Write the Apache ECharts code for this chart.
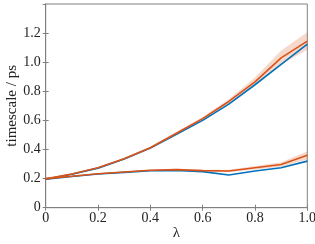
<!DOCTYPE html>
<html><head><meta charset="utf-8">
<script src="https://cdn.jsdelivr.net/npm/echarts@6/dist/echarts.min.js"></script>
<style>html,body{margin:0;padding:0;background:#fff}#c{width:315px;height:244px}</style>
</head><body><div id="c"></div>
<script>
var lambda = [0, 0.1, 0.2, 0.3, 0.4, 0.5, 0.6, 0.7, 0.8, 0.9, 1.0];
var slowBlue   = [0.195, 0.230, 0.272, 0.335, 0.410, 0.505, 0.600, 0.712, 0.845, 0.985, 1.125];
var slowOrange = [0.198, 0.232, 0.274, 0.337, 0.412, 0.512, 0.612, 0.730, 0.865, 1.030, 1.145];
var slowOrangeLo = [0.193, 0.227, 0.269, 0.331, 0.404, 0.502, 0.600, 0.714, 0.838, 0.985, 1.085];
var slowOrangeHi = [0.203, 0.237, 0.279, 0.343, 0.420, 0.522, 0.624, 0.746, 0.895, 1.080, 1.205];
var fastBlue   = [0.195, 0.214, 0.232, 0.243, 0.254, 0.256, 0.248, 0.225, 0.252, 0.275, 0.320];
var fastOrange = [0.200, 0.216, 0.233, 0.245, 0.257, 0.262, 0.255, 0.252, 0.275, 0.297, 0.360];
var fastOrangeLo = [0.195, 0.212, 0.229, 0.241, 0.252, 0.256, 0.249, 0.244, 0.263, 0.282, 0.332];
var fastOrangeHi = [0.205, 0.220, 0.237, 0.249, 0.262, 0.268, 0.261, 0.260, 0.287, 0.312, 0.388];
var xTicks = [0, 0.2, 0.4, 0.6, 0.8, 1.0];
var yTicks = [0, 0.2, 0.4, 0.6, 0.8, 1.0, 1.2];

var BLUE = '#0072BD', ORANGE = '#D95319', GRAY = '#808080';
var FONT = 'Liberation Serif';
function pairs(ys){ return lambda.map(function(x,i){ return [x, ys[i]]; }); }
function band(lo, hi){
  return {
    type:'custom', silent:true, z:1,
    data:[[0, 0]],
    renderItem:function(params, api){
      var pts = [];
      for (var i = 0; i < lambda.length; i++) pts.push(api.coord([lambda[i], hi[i]]));
      for (var j = lambda.length - 1; j >= 0; j--) pts.push(api.coord([lambda[j], lo[j]]));
      return {type:'polygon', shape:{points:pts}, style:{fill:'rgba(217,83,25,0.22)', stroke:null}};
    }
  };
}
function line(ys, color){
  return {type:'line', data:pairs(ys), symbol:'none', lineStyle:{color:color, width:1.6}, z:3};
}
var xfmt = function(v){ return v === 0 ? '0' : v.toFixed(1); };
var yfmt = function(v){ return yTicks.indexOf(Math.round(v*10)/10) < 0 ? '' : (v === 0 ? '0' : v.toFixed(1)); };
var chart = echarts.init(document.getElementById('c'), null, {renderer:'canvas'});
chart.setOption({
  animation:false,
  grid:{left:45.7, right:7.7, top:4, bottom:36.3, show:true, borderColor:GRAY, borderWidth:1,
        containLabel:false, outerBoundsMode:'none'},
  xAxis:[
    {type:'value', min:0, max:1, interval:0.2, name:'λ', nameLocation:'middle', nameGap:18, nameMoveOverlap:false,
     nameTextStyle:{fontFamily:FONT, fontSize:15, color:'#222'},
     axisLine:{show:true, lineStyle:{color:GRAY}}, axisTick:{show:true, inside:true, length:3, lineStyle:{color:GRAY}},
     axisLabel:{fontFamily:FONT, fontSize:14, color:'#222', formatter:xfmt, margin:4},
     splitLine:{show:false}},
    {type:'value', position:'top', min:0, max:1, interval:0.2,
     axisLine:{show:true, lineStyle:{color:GRAY}}, axisTick:{show:true, inside:true, length:3, lineStyle:{color:GRAY}},
     axisLabel:{show:false}, splitLine:{show:false}}
  ],
  yAxis:[
    {type:'value', min:0, max:1.4, interval:0.2, name:'timescale / ps', nameLocation:'middle', nameGap:26, nameMoveOverlap:false,
     nameTextStyle:{fontFamily:FONT, fontSize:15, color:'#222'},
     axisLine:{show:true, lineStyle:{color:GRAY}}, axisTick:{show:true, inside:true, length:3, lineStyle:{color:GRAY}},
     axisLabel:{fontFamily:FONT, fontSize:14, color:'#222', formatter:yfmt, margin:5, showMaxLabel:false},
     splitLine:{show:false}},
    {type:'value', position:'right', min:0, max:1.4, interval:0.2,
     axisLine:{show:true, lineStyle:{color:GRAY}}, axisTick:{show:true, inside:true, length:3, lineStyle:{color:GRAY}},
     axisLabel:{show:false}, splitLine:{show:false}}
  ],
  series: [
    band(slowOrangeLo, slowOrangeHi),
    band(fastOrangeLo, fastOrangeHi),
    line(slowBlue, BLUE), line(fastBlue, BLUE), line(slowOrange, ORANGE), line(fastOrange, ORANGE)
  ]
});
</script></body></html>
